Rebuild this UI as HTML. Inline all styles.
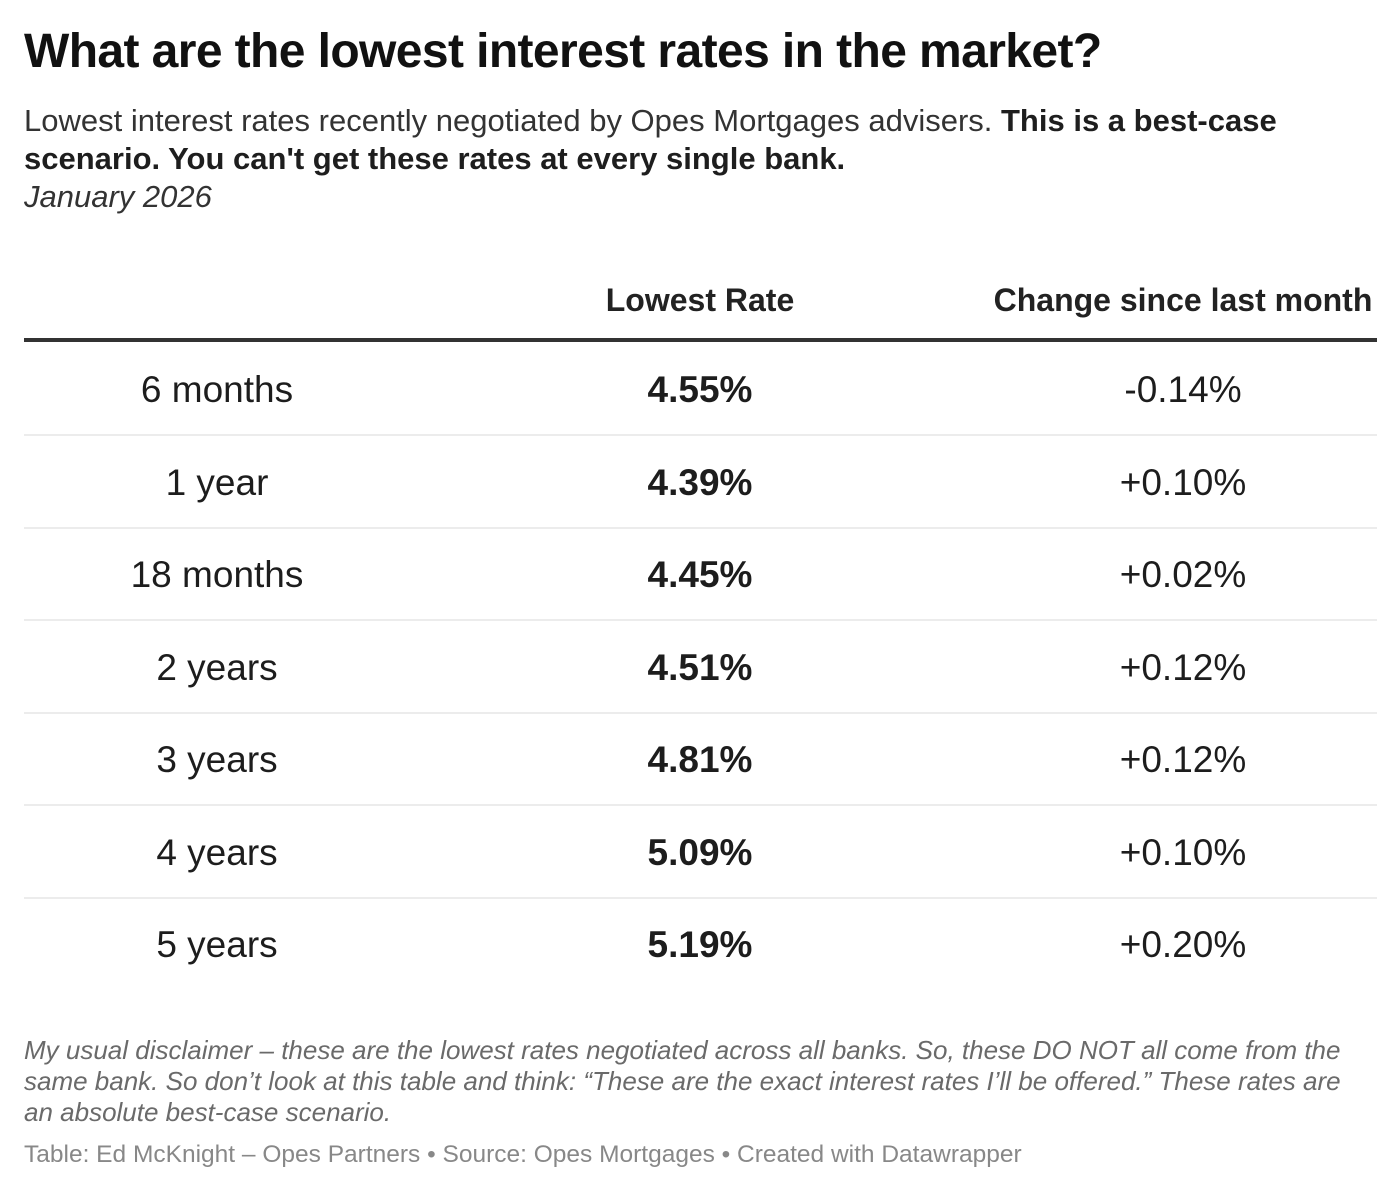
<!DOCTYPE html>
<html>
<head>
<meta charset="utf-8">
<style>
  html, body { margin:0; padding:0; background:#fff; }
  body { width:1400px; height:1192px; position:relative; overflow:hidden;
         font-family:"Liberation Sans", Arial, sans-serif; }
  .a { position:absolute; white-space:nowrap; line-height:1; }
  .title { left:24px; top:28px; font-size:48px; font-weight:bold; color:#111; letter-spacing:-0.6px; }
  .sub { left:24px; font-size:31px; color:#333; }
  .sub b { color:#1e1e1e; }
  .date { font-style:italic; }
  .hdr { top:284px; font-size:32px; font-weight:bold; color:#222; text-align:center; }
  .thick { position:absolute; left:24px; top:338px; width:1353px; height:4px; background:#333; }
  .sep { position:absolute; left:24px; width:1353px; height:2px; background:#ececec; }
  .cell { font-size:37px; color:#1d1d1d; text-align:center; }
  .c1 { left:24px; width:386px; }
  .c2 { left:410px; width:580px; font-weight:bold; }
  .c3 { left:990px; width:386px; }
  .note { left:24px; font-size:26px; font-style:italic; color:#6a6a6a; }
  .credit { left:24px; top:1143px; font-size:24.5px; color:#888; }
</style>
</head>
<body>
  <div class="a title">What are the lowest interest rates in the market?</div>
  <div class="a sub" style="top:105px;">Lowest interest rates recently negotiated by Opes Mortgages advisers. <b>This is a best-case</b></div>
  <div class="a sub" style="top:143px;"><b>scenario. You can't get these rates at every single bank.</b></div>
  <div class="a sub date" style="top:181px;">January 2026</div>

  <div class="a hdr c2" style="font-weight:bold;">Lowest Rate</div>
  <div class="a hdr c3">Change since last month</div>
  <div class="thick"></div>

  <div class="a cell c1" style="top:371px;">6 months</div>
  <div class="a cell c2" style="top:371px;">4.55%</div>
  <div class="a cell c3" style="top:371px;">-0.14%</div>
  <div class="sep" style="top:434px;"></div>

  <div class="a cell c1" style="top:463.5px;">1 year</div>
  <div class="a cell c2" style="top:463.5px;">4.39%</div>
  <div class="a cell c3" style="top:463.5px;">+0.10%</div>
  <div class="sep" style="top:526.5px;"></div>

  <div class="a cell c1" style="top:556px;">18 months</div>
  <div class="a cell c2" style="top:556px;">4.45%</div>
  <div class="a cell c3" style="top:556px;">+0.02%</div>
  <div class="sep" style="top:619px;"></div>

  <div class="a cell c1" style="top:648.5px;">2 years</div>
  <div class="a cell c2" style="top:648.5px;">4.51%</div>
  <div class="a cell c3" style="top:648.5px;">+0.12%</div>
  <div class="sep" style="top:711.5px;"></div>

  <div class="a cell c1" style="top:741px;">3 years</div>
  <div class="a cell c2" style="top:741px;">4.81%</div>
  <div class="a cell c3" style="top:741px;">+0.12%</div>
  <div class="sep" style="top:804px;"></div>

  <div class="a cell c1" style="top:833.5px;">4 years</div>
  <div class="a cell c2" style="top:833.5px;">5.09%</div>
  <div class="a cell c3" style="top:833.5px;">+0.10%</div>
  <div class="sep" style="top:896.5px;"></div>

  <div class="a cell c1" style="top:926px;">5 years</div>
  <div class="a cell c2" style="top:926px;">5.19%</div>
  <div class="a cell c3" style="top:926px;">+0.20%</div>

  <div class="a note" style="top:1036.5px;">My usual disclaimer – these are the lowest rates negotiated across all banks. So, these DO NOT all come from the</div>
  <div class="a note" style="top:1068px;">same bank. So don’t look at this table and think: “These are the exact interest rates I’ll be offered.” These rates are</div>
  <div class="a note" style="top:1099px;">an absolute best-case scenario.</div>

  <div class="a credit">Table: Ed McKnight – Opes Partners • Source: Opes Mortgages • Created with Datawrapper</div>
</body>
</html>
